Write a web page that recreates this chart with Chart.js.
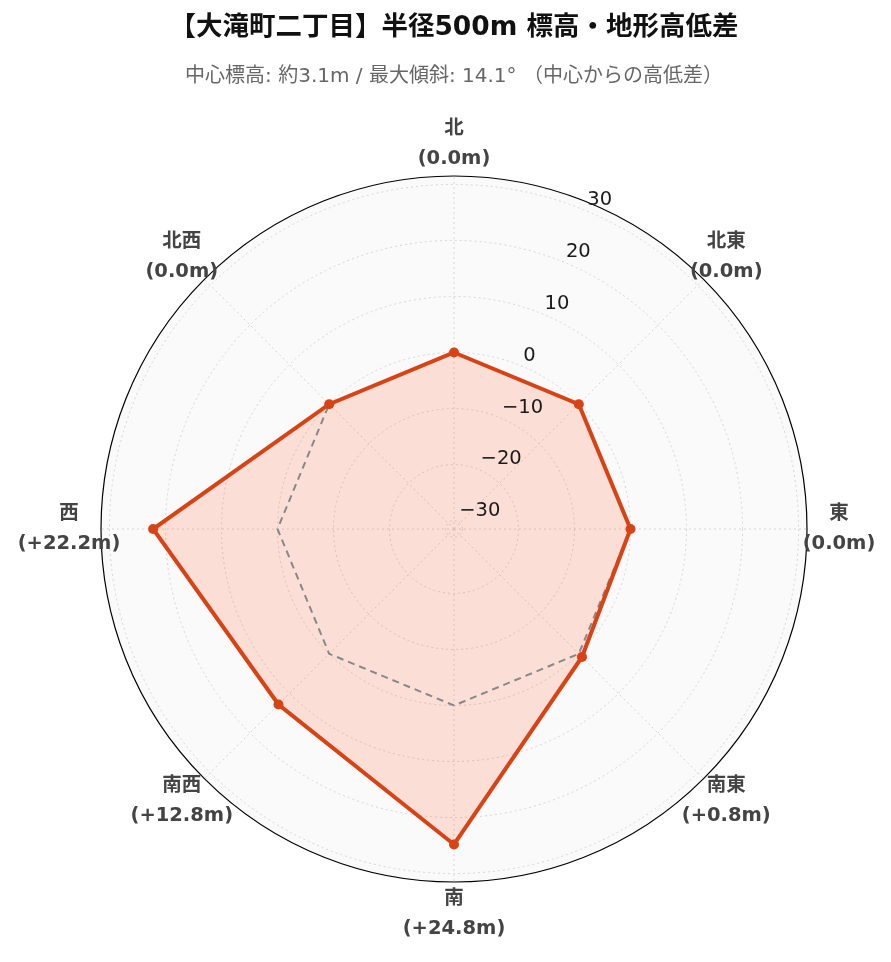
<!DOCTYPE html>
<html>
<head>
<meta charset="utf-8">
<script src="https://cdn.jsdelivr.net/npm/chart.js@4"></script>
<style>
  html, body { margin: 0; padding: 0; background: #fff; }
  #wrap { width: 891px; height: 962px; }
</style>
</head>
<body>
<div id="wrap"><canvas id="myChart-elevation"></canvas></div>
<script>
const directions = ["北", "北東", "東", "南東", "南", "南西", "西", "北西"];
const heightDiff = [0.0, 0.0, 0.0, 0.8, 24.8, 12.8, 22.2, 0.0];
const baseline = [0, 0, 0, 0, 0, 0, 0, 0];
const radialTicks = [-30, -20, -10, 0, 10, 20, 30];
const radialMin = -31.5;
const radialMax = 31.5;

const fmt = (v) => (v > 0 ? "+" : "") + v.toFixed(1) + "m";
const labels = directions.map((d, i) => [d, "(" + fmt(heightDiff[i]) + ")"]);

// polar background + outer ring
const polarBg = {
  id: "polarBg",
  beforeDraw(chart) {
    const s = chart.scales.r;
    const ctx = chart.ctx;
    ctx.save();
    ctx.beginPath();
    ctx.arc(s.xCenter, s.yCenter, s.drawingArea, 0, Math.PI * 2);
    ctx.fillStyle = "#fafafa";
    ctx.fill();
    ctx.restore();
  },
  afterDatasetsDraw(chart) {
    const s = chart.scales.r;
    const ctx = chart.ctx;
    ctx.save();
    ctx.beginPath();
    ctx.arc(s.xCenter, s.yCenter, s.drawingArea, 0, Math.PI * 2);
    ctx.strokeStyle = "#000";
    ctx.lineWidth = 1.2;
    ctx.stroke();

    // radial tick labels, horizontal, along a tilted line
    const ang = 67.6 * Math.PI / 180;
    ctx.font = "19.5px 'DejaVu Sans'";
    ctx.fillStyle = "#1a1a1a";
    ctx.textAlign = "left";
    ctx.textBaseline = "middle";
    radialTicks.forEach((v) => {
      const r = s.getDistanceFromCenterForValue(v);
      const x = s.xCenter + r * Math.cos(ang) + 2;
      const y = s.yCenter - r * Math.sin(ang) - 10;
      ctx.fillText(String(v).replace("-", "\u2212"), x, y);
    });

    // direction labels
    ctx.font = "bold 19.5px 'DejaVu Sans', 'Noto Sans CJK JP'";
    ctx.fillStyle = "#444";
    ctx.textAlign = "center";
    labels.forEach((lines, i) => {
      const p = s.getPointPosition(i, s.drawingArea + 32);
      ctx.fillText(lines[0], p.x, p.y - 15);
      ctx.fillText(lines[1], p.x, p.y + 15);
    });
    ctx.restore();
  },
};

new Chart(document.getElementById("myChart-elevation"), {
  type: "radar",
  data: {
    labels: directions,
    datasets: [
      {
        label: "高低差",
        data: heightDiff,
        borderColor: "#d84315",
        backgroundColor: "rgba(255, 87, 34, 0.17)",
        borderWidth: 4,
        pointRadius: 5,
        pointBackgroundColor: "#d84315",
        pointBorderWidth: 0,
        fill: "start",
      },
      {
        label: "基準",
        data: baseline,
        borderColor: "#888",
        borderWidth: 2,
        borderDash: [7, 5],
        pointRadius: 0,
        fill: false,
      },
    ],
  },
  options: {
    responsive: true,
    maintainAspectRatio: false,
    animation: false,
    layout: { padding: { left: 17, right: 0, top: 0, bottom: 79 } },
    scales: {
      r: {
        min: radialMin,
        max: radialMax,
        afterBuildTicks: (scale) => {
          scale.ticks = radialTicks.map((v) => ({ value: v }));
        },
        ticks: { display: false },
        pointLabels: { display: false },
        grid: { circular: true, color: "#d6d6d6", lineWidth: 1 },
        border: { dash: [2, 3] },
        angleLines: { color: "#d6d6d6", lineWidth: 1, borderDash: [2, 3] },
      },
    },
    plugins: {
      legend: { display: false },
      tooltip: { enabled: false },
      filler: { drawTime: "beforeDatasetsDraw" },
      title: {
        display: true,
        text: "【大滝町二丁目】半径500m 標高・地形高低差",
        color: "#111",
        font: { family: "'DejaVu Sans', 'Noto Sans CJK JP'", size: 26.5, weight: "bold", lineHeight: 1.2 },
        padding: { top: 12, bottom: 0 },
      },
      subtitle: {
        display: true,
        text: "中心標高: 約3.1m / 最大傾斜: 14.1° （中心からの高低差）",
        color: "#666",
        font: { family: "'DejaVu Sans', 'Noto Sans CJK JP'", size: 20, lineHeight: 1.2 },
        padding: { top: 21, bottom: 88 },
      },
    },
  },
  plugins: [polarBg],
});
</script>
</body>
</html>
